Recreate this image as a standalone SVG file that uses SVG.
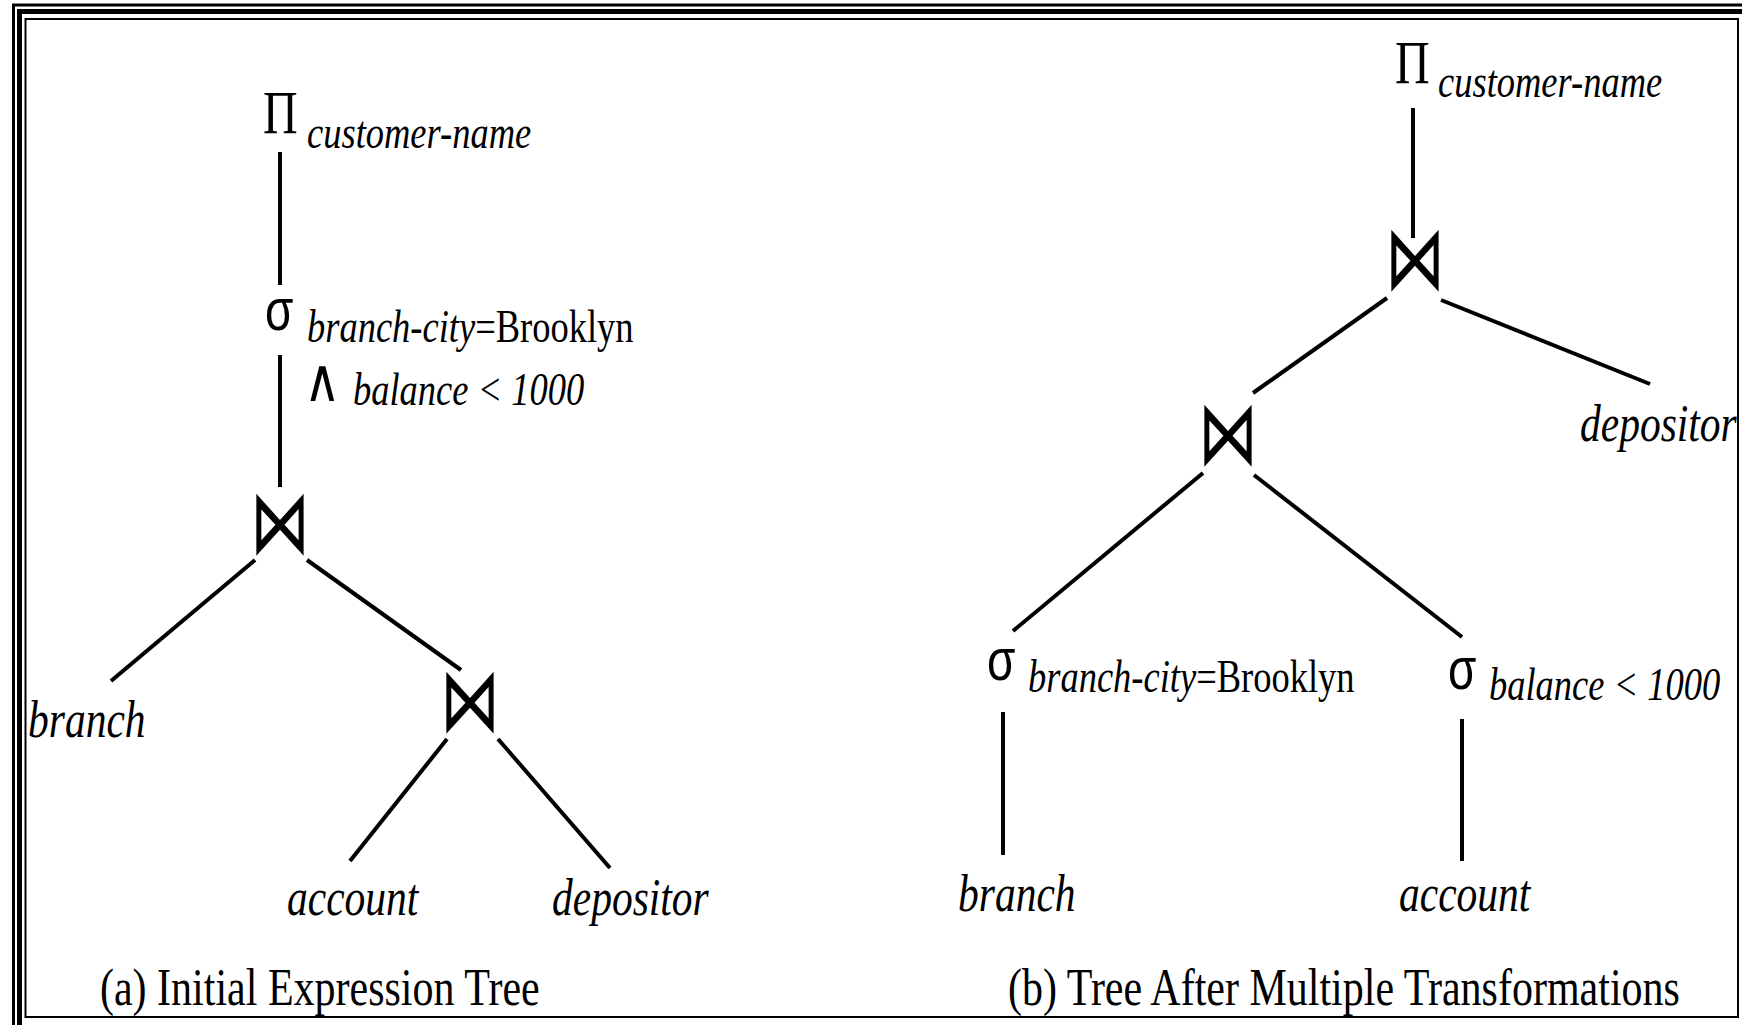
<svg xmlns="http://www.w3.org/2000/svg" width="1742" height="1025" viewBox="0 0 1742 1025">
<style>
.t{font-family:"Liberation Serif","Times New Roman",serif;fill:#000}
.i{font-style:italic}
.sub{font-size:36.5px}
.leaf{font-size:41.5px;font-style:italic}
.cap{font-size:42px}
.pi{font-family:"Liberation Serif","Times New Roman",serif;font-size:48px;fill:#000}
.sg{font-family:"Liberation Sans",Arial,sans-serif;font-size:46px;fill:#000}
.and{font-family:"DejaVu Sans",sans-serif;font-size:50px;fill:#000}
.bt{font-family:"DejaVu Sans",sans-serif;font-size:60px;fill:#000;text-anchor:middle}
.ln{stroke:#000;stroke-width:4;fill:none}
.fr{fill:none;stroke:#000}
</style>
<rect width="1742" height="1025" fill="#fff"/>
<g id="frame">
<rect class="fr" x="13.5" y="5" width="1760" height="1060" stroke-width="3"/>
<rect class="fr" x="19.5" y="11.5" width="1760" height="1060" stroke-width="5"/>
<rect class="fr" x="25.5" y="19" width="1712.5" height="998" stroke-width="2"/>
</g>
<g id="connectors">
<line class="ln" x1="280" y1="152" x2="280" y2="285"/>
<line class="ln" x1="280" y1="355" x2="280" y2="487"/>
<line class="ln" x1="255" y1="560" x2="111" y2="681"/>
<line class="ln" x1="307" y1="560" x2="461" y2="670"/>
<line class="ln" x1="447" y1="739" x2="350" y2="861"/>
<line class="ln" x1="498" y1="739" x2="610" y2="868"/>
<line class="ln" x1="1413" y1="108" x2="1413" y2="238"/>
<line class="ln" x1="1387" y1="298" x2="1253" y2="393"/>
<line class="ln" x1="1441" y1="300" x2="1650" y2="384"/>
<line class="ln" x1="1203" y1="473" x2="1013" y2="631"/>
<line class="ln" x1="1254" y1="475" x2="1462" y2="637"/>
<line class="ln" x1="1003" y1="712" x2="1003" y2="855"/>
<line class="ln" x1="1462" y1="719" x2="1462" y2="861"/>
</g>
<g id="a-project">
<text class="pi" transform="translate(263,133) scale(1,1.27)">Π</text>
<text class="t sub i" transform="translate(307,148) scale(1,1.27)">customer-name</text>
</g>
<g id="a-select">
<text class="sg" transform="translate(265,330) scale(1,1.27)">σ</text>
<text class="t sub" transform="translate(307,342) scale(1,1.27)"><tspan class="i">branch-city</tspan>=Brooklyn</text>
<text class="and" transform="translate(304,401) scale(1,1.2)">∧</text>
<text class="t sub i" transform="translate(353,405) scale(1,1.27)">balance &lt; 1000</text>
</g>
<g id="a-join1">
<text class="bt" transform="translate(280,553) scale(1,1.5)">⋈</text>
</g>
<g id="a-join2">
<text class="bt" transform="translate(470,731) scale(1,1.5)">⋈</text>
</g>
<g id="a-branch"><text class="t leaf" transform="translate(28,737) scale(1,1.27)">branch</text></g>
<g id="a-account"><text class="t leaf" transform="translate(287,915) scale(1,1.27)">account</text></g>
<g id="a-depositor"><text class="t leaf" transform="translate(552,915) scale(1,1.27)">depositor</text></g>
<g id="a-caption"><text class="t cap" transform="translate(100,1005) scale(1,1.27)">(a) Initial Expression Tree</text></g>
<g id="b-project">
<text class="pi" transform="translate(1395,83) scale(1,1.27)">Π</text>
<text class="t sub i" transform="translate(1438,97) scale(1,1.27)">customer-name</text>
</g>
<g id="b-join1">
<text class="bt" transform="translate(1415,289) scale(1,1.5)">⋈</text>
</g>
<g id="b-depositor"><text class="t leaf" transform="translate(1580,441) scale(1,1.27)">depositor</text></g>
<g id="b-join2">
<text class="bt" transform="translate(1228,464) scale(1,1.5)">⋈</text>
</g>
<g id="b-select-city">
<text class="sg" transform="translate(987,680) scale(1,1.27)">σ</text>
<text class="t sub" transform="translate(1028,692) scale(1,1.27)"><tspan class="i">branch-city</tspan>=Brooklyn</text>
</g>
<g id="b-select-balance">
<text class="sg" transform="translate(1448,689) scale(1,1.27)">σ</text>
<text class="t sub i" transform="translate(1489,700) scale(1,1.27)">balance &lt; 1000</text>
</g>
<g id="b-branch"><text class="t leaf" transform="translate(958,911) scale(1,1.27)">branch</text></g>
<g id="b-account"><text class="t leaf" transform="translate(1399,911) scale(1,1.27)">account</text></g>
<g id="b-caption"><text class="t cap" transform="translate(1008,1005) scale(1,1.27)">(b) Tree After Multiple Transformations</text></g>
</svg>
